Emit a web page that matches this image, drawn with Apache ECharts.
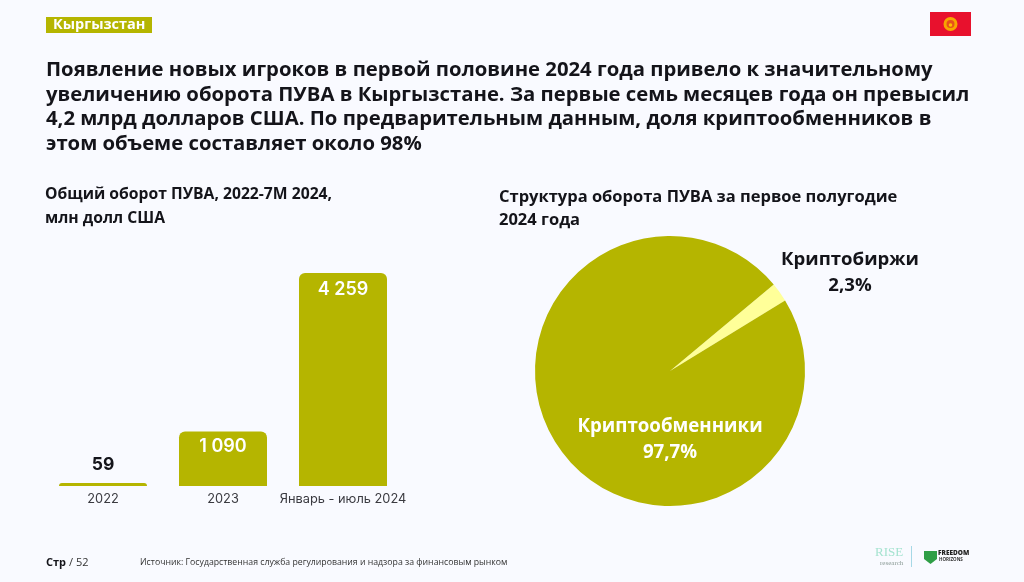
<!DOCTYPE html>
<html><head><meta charset="utf-8">
<style>html,body{margin:0;padding:0;background:#f9faff}#c{width:1024px;height:582px}</style>
<script src="https://cdn.jsdelivr.net/npm/echarts@6/dist/echarts.min.js"></script>
</head><body><div id="c"></div>
<script>
const barCategories = ['2022', '2023', 'Январь - июль 2024'];
const barValues = [59, 1090, 4259];
const pieNames = ['Криптобиржи', 'Криптообменники'];
const pieValues = [2.3, 97.7];
const titleLines = [
  'Появление новых игроков в первой половине 2024 года привело к значительному',
  'увеличению оборота ПУВА в Кыргызстане. За первые семь месяцев года он превысил',
  '4,2 млрд долларов США. По предварительным данным, доля криптообменников в',
  'этом объеме составляет около 98%'
];
const OLIVE = '#b5b500', PALE = '#ffff99', INK = '#14141a';
const sans = '"Open Sans"', inter = 'Inter';
const fmt = v => String(v).replace(/\B(?=(\d{3})+$)/g, ' ');
const pct = v => String(v).replace('.', ',') + '%';
const t = (x, y, text, font, fill, extra) => ({type:'text', x, y, silent:true,
  style:Object.assign({text, font, fill, textVerticalAlign:'middle'}, extra||{})});

const chart = echarts.init(document.getElementById('c'), null, {renderer:'canvas'});
chart.setOption({
  animation:false,
  backgroundColor:'#f9faff',
  grid:{left:43, width:360, top:266, bottom:96},
  xAxis:{type:'category', data:barCategories, axisLine:{show:false}, axisTick:{show:false},
    axisLabel:{margin:5, interval:0, color:'#3a3a40', fontFamily:inter, fontSize:12.8, lineHeight:16}},
  yAxis:{type:'value', min:0, max:4400, show:false, splitLine:{show:false}},
  series:[
    {type:'bar', barWidth:88, silent:true, itemStyle:{color:OLIVE, borderRadius:[6,6,0,0]},
     data:barValues.map((v,i)=>({value:v,
       label: i===0
        ? {show:true, position:'top', distance:9, color:INK, fontFamily:inter, fontWeight:700, fontSize:17.5, formatter:p=>fmt(p.value)}
        : {show:true, position:'insideTop', distance:i===1?6:8, color:'#fff', fontFamily:inter, fontWeight:600, fontSize:18, formatter:p=>fmt(p.value)}
     }))},
    {type:'pie', center:[670,371], radius:[0,135], startAngle:39.8, clockwise:true, silent:true,
     itemStyle:{borderWidth:0}, labelLine:{show:false},
     data:[
      {name:pieNames[0], value:pieValues[0], itemStyle:{color:PALE},
       label:{show:true, position:'outside', color:INK, fontFamily:sans, fontWeight:700, fontSize:18.6, lineHeight:26, align:'center',
              formatter:p=>p.name+'\n'+pct(p.value)}},
      {name:pieNames[1], value:pieValues[1], itemStyle:{color:OLIVE},
       label:{show:true, position:'inside', color:'#fff', fontFamily:sans, fontWeight:700, fontSize:18.7, lineHeight:26, align:'center',
              formatter:p=>p.name+'\n'+pct(p.value)}}
     ],
     labelLayout:p=>p.dataIndex===0
       ? {x:850, y:273, align:'center', verticalAlign:'middle'}
       : {x:670, y:440, align:'center', verticalAlign:'middle'}
    }
  ],
  graphic:[
    {type:'rect', silent:true, shape:{x:46,y:17,width:106,height:16}, style:{fill:OLIVE}},
    t(53,25,'Кыргызстан','700 14.5px '+sans,'#fff'),
    {type:'rect', silent:true, shape:{x:930,y:12,width:41,height:24}, style:{fill:'#e8112d'}},
    {type:'circle', silent:true, shape:{cx:950.5,cy:24,r:7}, style:{fill:'#f7a600'}},
    {type:'circle', silent:true, shape:{cx:950.5,cy:24,r:4}, style:{fill:'#e8501a'}},
    {type:'circle', silent:true, shape:{cx:950.5,cy:25,r:1.8}, style:{fill:'#ffc000'}},
    ...titleLines.map((s,i)=>t(46,[70.5,95,119.5,144][i],s,'700 20.3px '+sans,INK)),
    t(45,195,'Общий оборот ПУВА, 2022-7М 2024,','700 15.7px '+sans,INK),
    t(45,219,'млн долл США','700 15.7px '+sans,INK),
    t(499,197,'Структура оборота ПУВА за первое полугодие','700 16.5px '+sans,INK),
    t(499,220,'2024 года','700 16.5px '+sans,INK),
    t(46,563,'Стр','700 11px '+sans,INK),
    t(69,563,'/ 52','400 11px '+sans,'#333'),
    t(140,563,'Источник: Государственная служба регулирования и надзора за финансовым рынком','400 8.72px '+sans,'#333'),
    t(875,553,'RISE','400 13px "Liberation Serif"','#a5e3d0'),
    t(880,563,'research','400 7px "Liberation Serif"','#8a9a95'),
    {type:'rect', silent:true, shape:{x:911,y:546,width:1,height:21}, style:{fill:'#a6d8e6'}},
    {type:'polygon', silent:true, shape:{points:[[924,551],[937,551],[937,559],[930.5,564],[924,559]]}, style:{fill:'#2f9e46'}},
    t(938,553,'FREEDOM','800 6.5px '+sans,'#222'),
    t(939,560,'HORIZONS','700 4.5px '+sans,'#333')
  ]
});
</script></body></html>
